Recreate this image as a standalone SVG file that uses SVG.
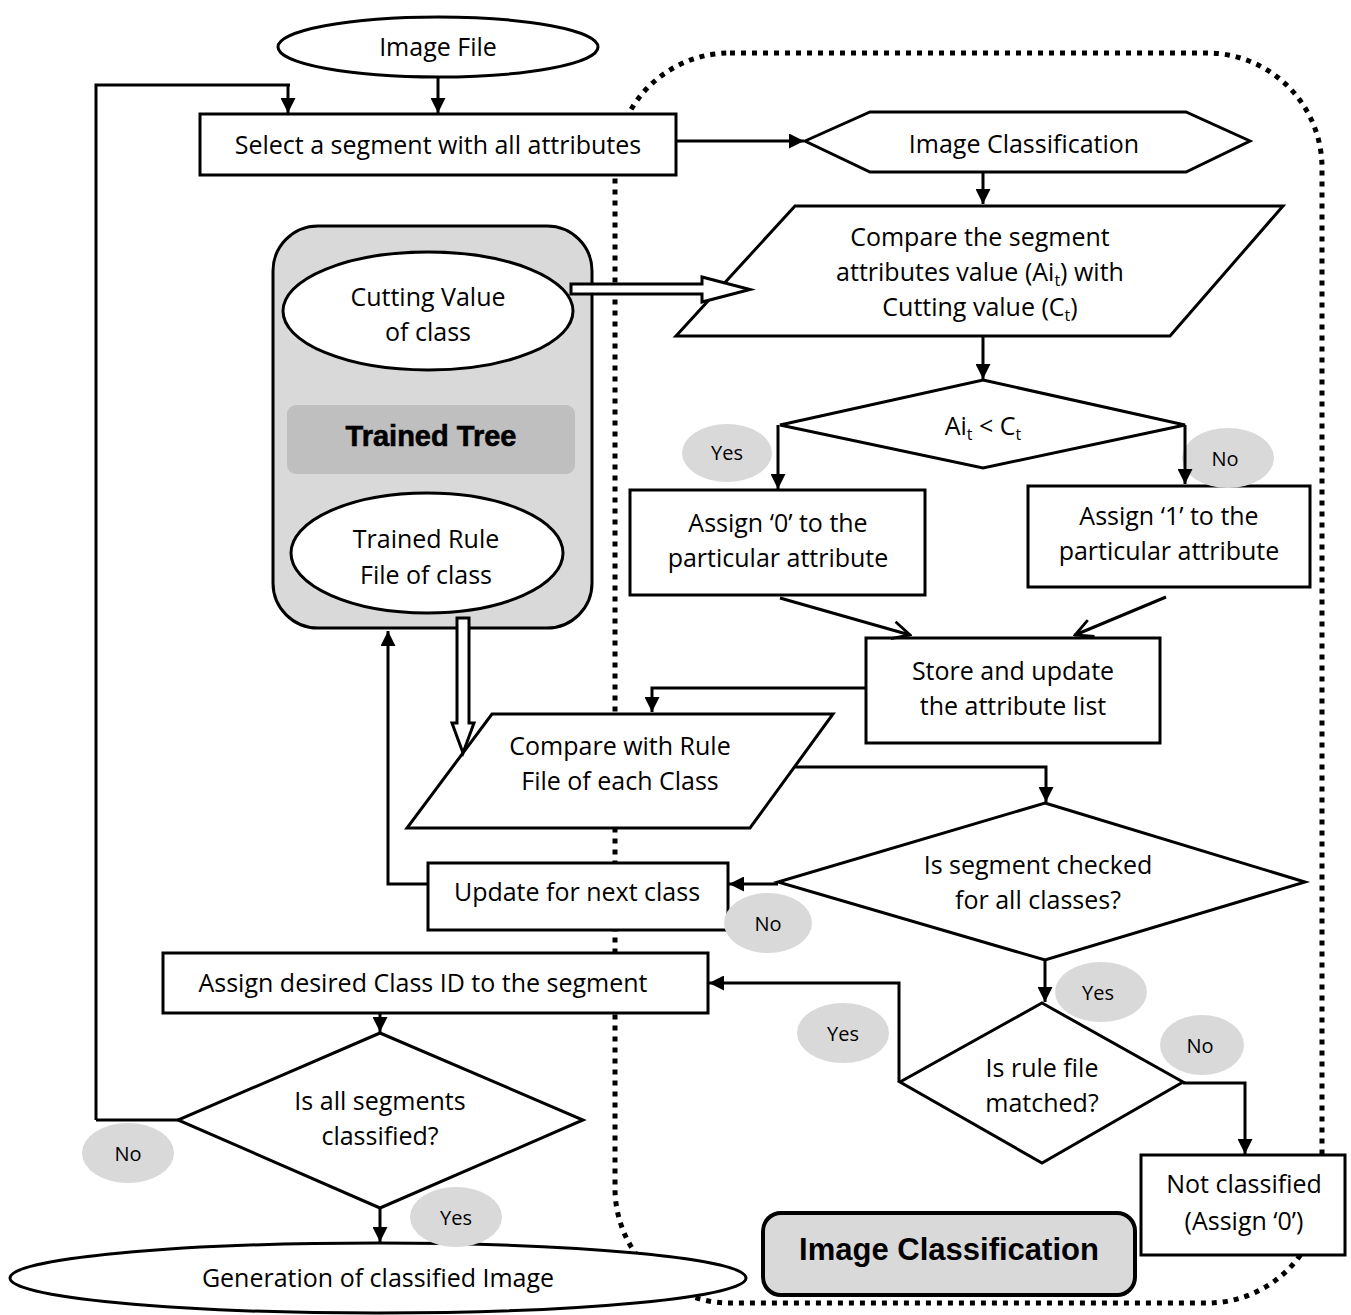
<svg xmlns="http://www.w3.org/2000/svg" width="1351" height="1315" viewBox="0 0 1351 1315">
  <style>
    .shape { fill: #fff; stroke: #000; stroke-width: 3; }
    .t { font-family: "Open Sans", "Noto Sans", sans-serif; font-size: 25px; fill: #000; text-anchor: middle; }
    .tag { fill: #d9d9d9; stroke: none; }
    .tagt { font-family: "Open Sans", "Noto Sans", sans-serif; font-size: 20px; fill: #000; text-anchor: middle; }
    .line { fill: none; stroke: #000; stroke-width: 3; }
    .sub { font-size: 16px; }
    .bold { font-family: "Liberation Sans", Arial, sans-serif; font-weight: bold; text-anchor: middle; fill: #000; }
  </style>
  <defs>
    <marker id="arr" viewBox="0 0 10 10" refX="10" refY="5" markerWidth="5" markerHeight="5" orient="auto" markerUnits="strokeWidth">
      <path d="M0,0 L10,5 L0,10 z" fill="#000"/>
    </marker>
    <marker id="open" viewBox="0 0 12 12" refX="11" refY="6" markerWidth="7" markerHeight="7" orient="auto" markerUnits="strokeWidth">
      <path d="M1,1 L11,6 L1,11" fill="none" stroke="#000" stroke-width="1.6"/>
    </marker>
  </defs>

  <rect width="1351" height="1315" fill="#fff"/>

  <!-- dotted boundary of the classification stage -->
  <rect id="classification-boundary" x="615" y="53" width="707" height="1250" rx="115" ry="115" fill="none" stroke="#000" stroke-width="5" stroke-dasharray="5 6"/>

  <g id="image-file">
    <ellipse class="shape" cx="438" cy="47" rx="160" ry="30"/>
    <text class="t" x="438" y="56">Image File</text>
  </g>

  <g id="select-segment">
    <rect class="shape" x="200" y="114" width="476" height="61"/>
    <text class="t" x="438" y="154">Select a segment with all attributes</text>
  </g>

  <g id="image-classification-start">
    <polygon class="shape" points="805,141 870,112 1186,112 1250,141 1186,172 870,172"/>
    <text class="t" x="1024" y="153">Image Classification</text>
  </g>

  <g id="compare-cutting">
    <polygon class="shape" points="795,206 1283,206 1170,336 676,336"/>
    <text class="t" x="980" y="246">Compare the segment</text>
    <text class="t" x="980" y="281">attributes value (Ai<tspan class="sub" dy="5">t</tspan><tspan dy="-5">)  with</tspan></text>
    <text class="t" x="980" y="316">Cutting value (C<tspan class="sub" dy="5">t</tspan><tspan dy="-5">)</tspan></text>
  </g>

  <g id="decision-cut">
    <polygon class="shape" points="983,380 1185,425 983,468 780,425"/>
    <text class="t" x="983" y="435">Ai<tspan class="sub" dy="5">t</tspan><tspan dy="-5"> &lt; C</tspan><tspan class="sub" dy="5">t</tspan></text>
  </g>

  <g id="assign-zero">
    <rect class="shape" x="630" y="490" width="295" height="105"/>
    <text class="t" x="778" y="532">Assign ‘0’ to the</text>
    <text class="t" x="778" y="567">particular attribute</text>
  </g>

  <g id="assign-one">
    <rect class="shape" x="1028" y="486" width="282" height="101"/>
    <text class="t" x="1169" y="525">Assign ‘1’ to the</text>
    <text class="t" x="1169" y="560">particular attribute</text>
  </g>

  <g id="store-update">
    <rect class="shape" x="866" y="638" width="294" height="105"/>
    <text class="t" x="1013" y="680">Store and update</text>
    <text class="t" x="1013" y="715">the attribute list</text>
  </g>

  <g id="compare-rule">
    <polygon class="shape" points="492,714 833,714 750,828 407,828"/>
    <text class="t" x="620" y="755">Compare with Rule</text>
    <text class="t" x="620" y="790">File of each Class</text>
  </g>

  <g id="decision-all-classes">
    <polygon class="shape" points="1045,803 1305,882 1045,960 778,882"/>
    <text class="t" x="1038" y="874">Is segment checked</text>
    <text class="t" x="1038" y="909">for all classes?</text>
  </g>

  <g id="update-next">
    <rect class="shape" x="428" y="863" width="300" height="67"/>
    <text class="t" x="577" y="901">Update for next class</text>
  </g>

  <g id="decision-rule-match">
    <polygon class="shape" points="1042,1003 1183,1082 1042,1163 900,1082"/>
    <text class="t" x="1042" y="1077">Is rule file</text>
    <text class="t" x="1042" y="1112">matched?</text>
  </g>

  <g id="assign-class">
    <rect class="shape" x="163" y="953" width="545" height="60"/>
    <text class="t" x="423" y="992">Assign desired Class ID to the segment</text>
  </g>

  <g id="not-classified">
    <rect class="shape" x="1141" y="1155" width="204" height="100"/>
    <text class="t" x="1244" y="1193">Not classified</text>
    <text class="t" x="1244" y="1230">(Assign ‘0’)</text>
  </g>

  <g id="decision-all-segments">
    <polygon class="shape" points="380,1033 583,1120 380,1208 178,1120"/>
    <text class="t" x="380" y="1110">Is all segments</text>
    <text class="t" x="380" y="1145">classified?</text>
  </g>

  <g id="generation">
    <ellipse class="shape" cx="378" cy="1278" rx="368" ry="35"/>
    <text class="t" x="378" y="1287">Generation of classified Image</text>
  </g>

  <g id="trained-tree">
    <rect x="273" y="226" width="319" height="402" rx="45" ry="45" fill="#d9d9d9" stroke="#000" stroke-width="3"/>
    <ellipse class="shape" cx="428" cy="311" rx="145" ry="59"/>
    <text class="t" x="428" y="306">Cutting Value</text>
    <text class="t" x="428" y="341">of class</text>
    <rect x="287" y="405" width="288" height="69" rx="9" ry="9" fill="#bfbfbf"/>
    <text class="bold" x="431" y="446" font-size="29" stroke="#000" stroke-width="0.6">Trained Tree</text>
    <ellipse class="shape" cx="427" cy="553" rx="136" ry="60"/>
    <text class="t" x="426" y="548">Trained Rule</text>
    <text class="t" x="426" y="584">File of class</text>
  </g>

  <g id="image-classification-label">
    <rect x="763" y="1213" width="372" height="82" rx="18" ry="18" fill="#d9d9d9" stroke="#000" stroke-width="4"/>
    <text class="bold" x="949" y="1260" font-size="31">Image Classification</text>
  </g>

  <g id="branch-labels">
    <ellipse class="tag" cx="727" cy="453" rx="45" ry="29"/>
    <text class="tagt" x="727" y="460">Yes</text>
    <ellipse class="tag" cx="1228" cy="458" rx="46" ry="30"/>
    <text class="tagt" x="1225" y="466">No</text>
    <ellipse class="tag" cx="768" cy="923" rx="44" ry="30"/>
    <text class="tagt" x="768" y="931">No</text>
    <ellipse class="tag" cx="1101" cy="992" rx="46" ry="30"/>
    <text class="tagt" x="1098" y="1000">Yes</text>
    <ellipse class="tag" cx="843" cy="1033" rx="46" ry="30"/>
    <text class="tagt" x="843" y="1041">Yes</text>
    <ellipse class="tag" cx="1202" cy="1045" rx="42" ry="30"/>
    <text class="tagt" x="1200" y="1053">No</text>
    <ellipse class="tag" cx="128" cy="1153" rx="46" ry="30"/>
    <text class="tagt" x="128" y="1161">No</text>
    <ellipse class="tag" cx="456" cy="1217" rx="46" ry="30"/>
    <text class="tagt" x="456" y="1225">Yes</text>
  </g>

  <!-- connectors, drawn over the nodes -->
  <g id="connectors">
    <line class="line" x1="438" y1="78" x2="438" y2="113" marker-end="url(#arr)"/>
    <polyline class="line" points="96,1120 96,85 290,85"/>
    <line class="line" x1="288" y1="85" x2="288" y2="113" marker-end="url(#arr)"/>
    <line class="line" x1="676" y1="141" x2="804" y2="141" marker-end="url(#arr)"/>
    <line class="line" x1="983" y1="172" x2="983" y2="204" marker-end="url(#arr)"/>
    <line class="line" x1="983" y1="337" x2="983" y2="379" marker-end="url(#arr)"/>
    <line class="line" x1="778" y1="425" x2="778" y2="489" marker-end="url(#arr)"/>
    <line class="line" x1="1185" y1="425" x2="1185" y2="484" marker-end="url(#arr)"/>
    <line class="line" x1="780" y1="598" x2="910" y2="635" marker-end="url(#open)"/>
    <line class="line" x1="1166" y1="597" x2="1075" y2="635" marker-end="url(#open)"/>
    <polyline class="line" points="866,688 652,688 652,712" marker-end="url(#arr)"/>
    <polyline class="line" points="795,767 1046,767 1046,802" marker-end="url(#arr)"/>
    <line class="line" x1="778" y1="884" x2="729" y2="884" marker-end="url(#arr)"/>
    <polyline class="line" points="428,884 388,884 388,631" marker-end="url(#arr)"/>
    <line class="line" x1="1045" y1="960" x2="1045" y2="1002" marker-end="url(#arr)"/>
    <polyline class="line" points="899,1082 899,983 709,983" marker-end="url(#arr)"/>
    <polyline class="line" points="1183,1083 1245,1083 1245,1154" marker-end="url(#arr)"/>
    <line class="line" x1="380" y1="1013" x2="380" y2="1032" marker-end="url(#arr)"/>
    <line class="line" x1="96" y1="1120" x2="178" y2="1120"/>
    <line class="line" x1="380" y1="1208" x2="380" y2="1242" marker-end="url(#arr)"/>
    <!-- hollow block arrows leaving the trained tree -->
    <path d="M571,284 L702,284 L702,277 L750,289.5 L702,302 L702,294 L571,294 Z" fill="#fff" stroke="#000" stroke-width="3"/>
    <path d="M457,618 L469,618 L469,723 L474,723 L463,753 L452,723 L457,723 Z" fill="#fff" stroke="#000" stroke-width="3"/>
  </g>
</svg>
